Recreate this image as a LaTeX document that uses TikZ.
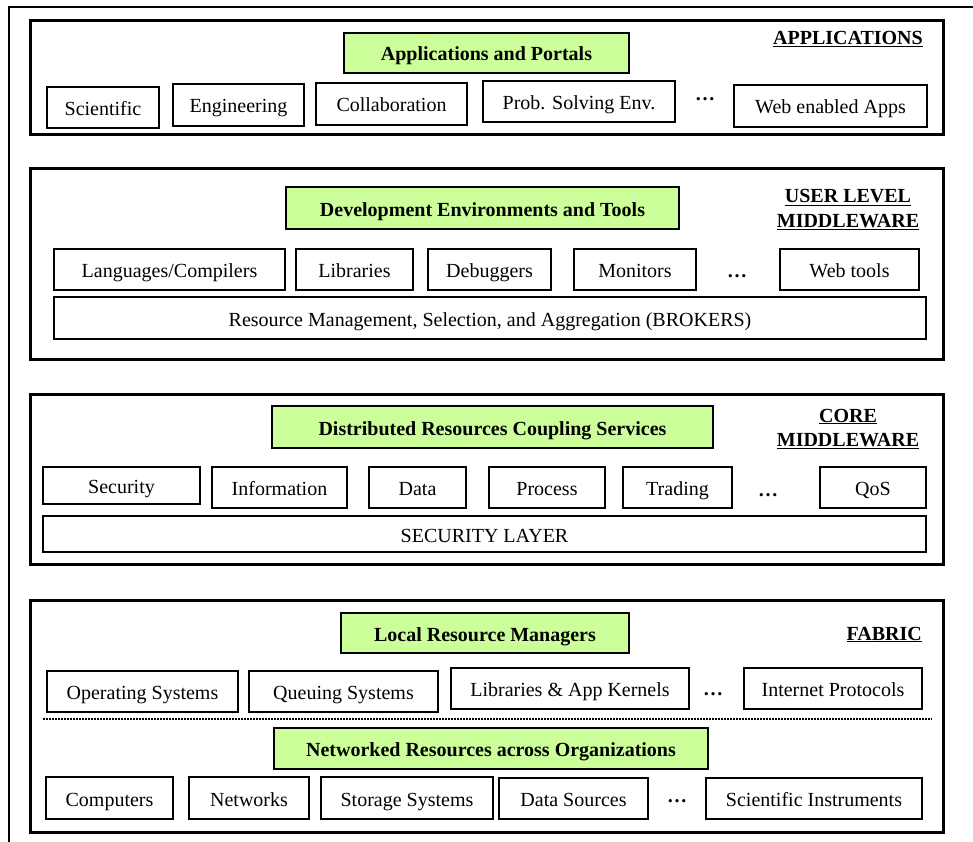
\documentclass[tikz,border=0pt]{standalone}
\usepackage{fontspec}
\setmainfont{Liberation Serif}
\usepackage{tikz}
\definecolor{servicegreen}{RGB}{204,255,153}
\newcommand{\boxfont}{\fontsize{20}{24}\selectfont}

\begin{document}
\begin{tikzpicture}[x=1pt, y=-1pt]
\tikzstyle{outerframe} = [line width=1.5pt]
\tikzstyle{layer} = [rectangle, draw, line width=3pt, inner sep=0pt, minimum width=913pt]
\tikzstyle{block} = [rectangle, draw, line width=2pt, inner sep=0pt, font=\boxfont, text height=16pt, text depth=0pt]
\tikzstyle{service} = [block, fill=servicegreen, font=\boxfont\bfseries]
\tikzstyle{title} = [inner sep=0pt, font=\boxfont\bfseries]
\tikzstyle{more} = [inner sep=0pt, anchor=base, font=\boxfont\bfseries]
\useasboundingbox (0,0) rectangle (973,842);
\draw[outerframe] (9,842) -- (9,7) -- (973,7);

% applications
\node[layer, minimum height=114pt] (apps) at (486.5,78) {};
\node[service, minimum width=285pt, minimum height=40pt] (portals) at (486.5,53) {Applications and Portals};
\node[title, anchor=base east] (appstitle) at (923,45) {\underline{APPLICATIONS}};
\node[block, minimum width=112pt, minimum height=41pt] (sci) at (103,107.5) {Scientific};
\node[block, minimum width=131pt, minimum height=42pt] (eng) at (238.5,105) {Engineering};
\node[block, minimum width=151pt, minimum height=42pt] (collab) at (391.5,104) {Collaboration};
\node[block, minimum width=192pt, minimum height=41pt] (pse) at (579,101.5) {Prob. Solving Env.};
\node[more] (appsmore) at (705,101) {…};
\node[block, minimum width=193pt, minimum height=42pt] (webapps) at (830.5,106) {Web enabled Apps};

% user level middleware
\node[layer, minimum height=190pt] (user) at (486.5,264) {};
\node[service, minimum width=393pt, minimum height=42pt] (devtools) at (482.5,208) {Development Environments and Tools};
\node[title, anchor=base] (usertitle) at (848,203) {\underline{USER LEVEL}};
\node[title, anchor=base] (usertitleb) at (848,227) {\underline{MIDDLEWARE}};
\node[block, minimum width=231pt, minimum height=41pt] (lang) at (169.5,269.5) {Languages/Compilers};
\node[block, minimum width=117pt, minimum height=41pt] (libs) at (354.5,269.5) {Libraries};
\node[block, minimum width=123pt, minimum height=41pt] (debug) at (489.5,269.5) {Debuggers};
\node[block, minimum width=122pt, minimum height=41pt] (monitors) at (635,269.5) {Monitors};
\node[more] (usermore) at (737,277) {…};
\node[block, minimum width=139pt, minimum height=41pt] (webtools) at (849.5,269.5) {Web tools};
\node[block, minimum width=872pt, minimum height=42pt] (brokers) at (490,318) {Resource Management, Selection, and Aggregation (BROKERS)};

% core middleware
\node[layer, minimum height=170pt] (core) at (486.5,479) {};
\node[service, minimum width=441pt, minimum height=42pt] (coupling) at (492.5,427) {Distributed Resources Coupling Services};
\node[title, anchor=base] (coretitle) at (848,422) {\underline{CORE}};
\node[title, anchor=base] (coretitleb) at (848,446) {\underline{MIDDLEWARE}};
\node[block, minimum width=157pt, minimum height=37pt] (security) at (121.5,485.5) {Security};
\node[block, minimum width=135pt, minimum height=41pt] (info) at (279.5,487.5) {Information};
\node[block, minimum width=97pt, minimum height=41pt] (data) at (417.5,487.5) {Data};
\node[block, minimum width=116pt, minimum height=41pt] (process) at (547,487.5) {Process};
\node[block, minimum width=109pt, minimum height=41pt] (trading) at (677.5,487.5) {Trading};
\node[more] (coremore) at (768,496) {…};
\node[block, minimum width=106pt, minimum height=41pt] (qos) at (873,487.5) {QoS};
\node[block, minimum width=883pt, minimum height=36pt] (seclayer) at (484.5,534) {SECURITY LAYER};

% fabric
\node[layer, minimum height=232pt] (fabric) at (486.5,716) {};
\node[service, minimum width=288pt, minimum height=40pt] (localrm) at (485,633) {Local Resource Managers};
\node[title, anchor=base east] (fabrictitle) at (922,640) {\underline{FABRIC}};
\node[block, minimum width=191pt, minimum height=41pt] (os) at (142.5,691.5) {Operating Systems};
\node[block, minimum width=189pt, minimum height=41pt] (queue) at (343.5,691.5) {Queuing Systems};
\node[block, minimum width=238pt, minimum height=41pt] (kernels) at (570,688.5) {Libraries \& App Kernels};
\node[more] (fabricmore) at (713,695) {…};
\node[block, minimum width=178pt, minimum height=41pt] (inet) at (833,688.5) {Internet Protocols};
\coordinate (splitl) at (43,719);
\coordinate (splitr) at (932,719);
\draw[line width=1.5pt, dash pattern=on 1.5pt off 1.5pt] (splitl) -- (splitr);
\node[service, minimum width=434pt, minimum height=41pt] (netres) at (491,748.5) {Networked Resources across Organizations};
\node[block, minimum width=127pt, minimum height=42pt] (computers) at (109.5,798) {Computers};
\node[block, minimum width=120pt, minimum height=42pt] (networks) at (249,798) {Networks};
\node[block, minimum width=172pt, minimum height=42pt] (storage) at (407,798) {Storage Systems};
\node[block, minimum width=149pt, minimum height=41pt] (dsources) at (573.5,798.5) {Data Sources};
\node[more] (netmore) at (677,802) {…};
\node[block, minimum width=216pt, minimum height=41pt] (instruments) at (814,798.5) {Scientific Instruments};
\end{tikzpicture}
\end{document}
